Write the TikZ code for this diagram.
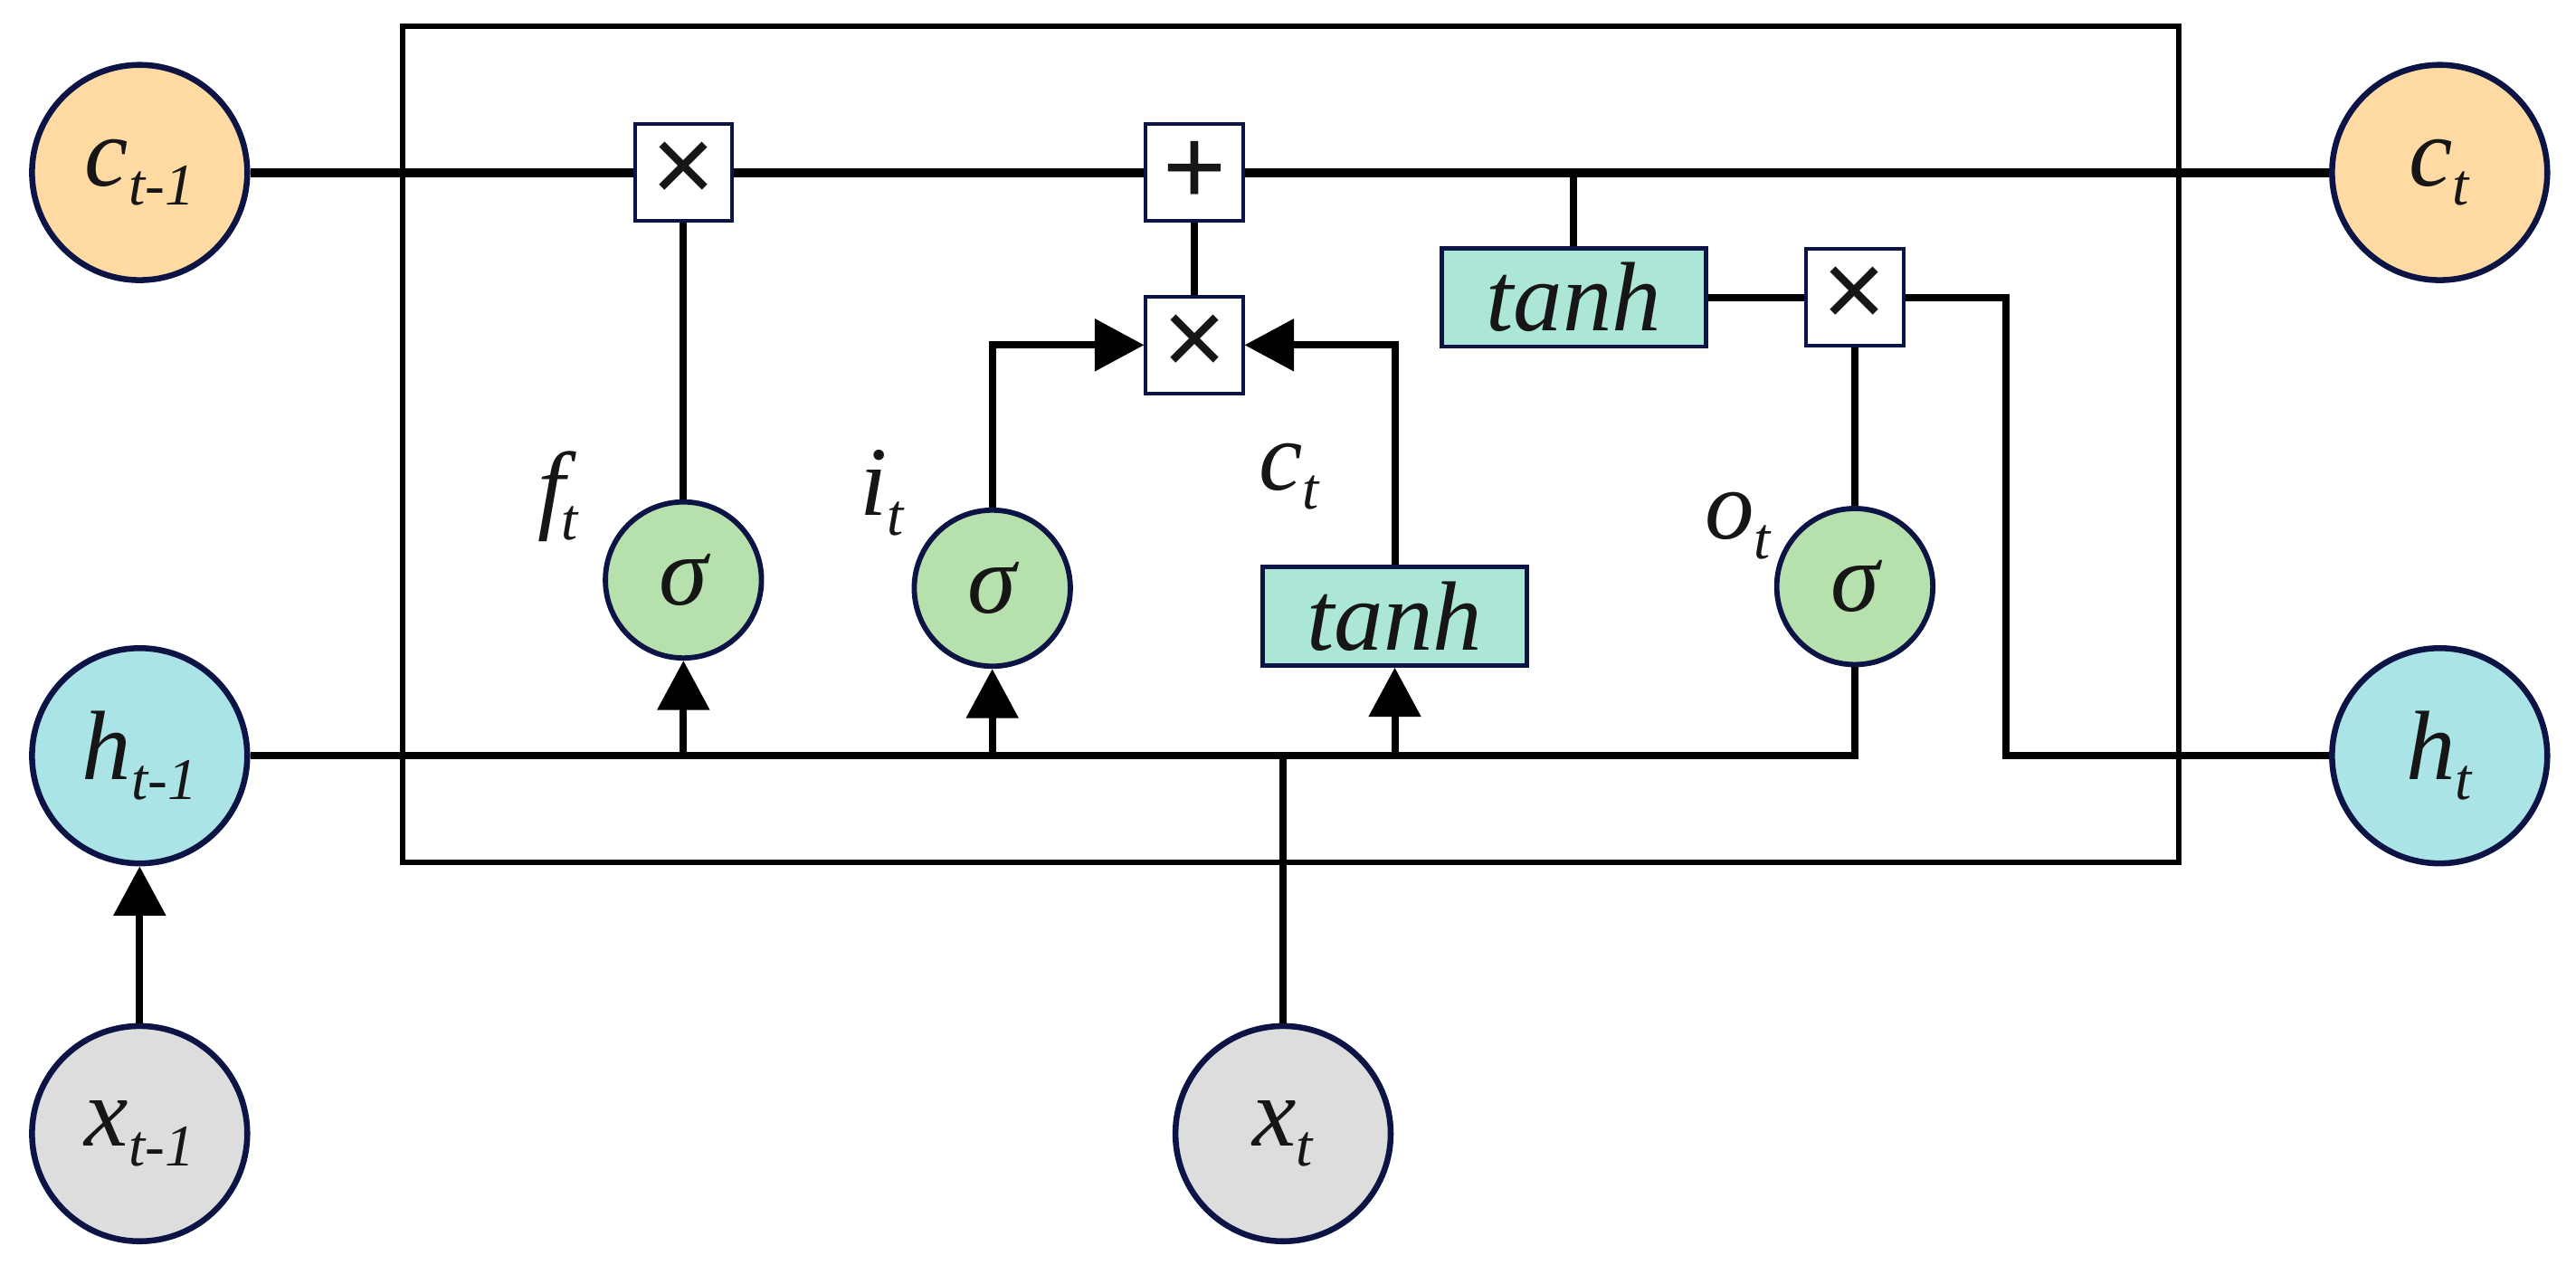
\documentclass[tikz,border=0pt]{standalone}
\usepackage{fontspec}
\setmainfont{Liberation Serif}
\newfontfamily\opfont{Liberation Sans}
\usetikzlibrary{arrows.meta}

\definecolor{navy}{RGB}{12,20,70}
\definecolor{cellfill}{RGB}{255,219,163}
\definecolor{hidfill}{RGB}{171,228,231}
\definecolor{infill}{RGB}{221,221,221}
\definecolor{gatefill}{RGB}{182,224,172}
\definecolor{actfill}{RGB}{172,230,214}
\definecolor{ink}{RGB}{22,22,22}

\newcommand{\vsub}[2]{\textit{#1}\raisebox{-0.2em}{\fontsize{36}{36}\selectfont\textit{#2}}}

\begin{document}
\begin{tikzpicture}[x=1pt,y=-1pt,
  state/.style={circle,draw=navy,line width=3.6pt,minimum size=131pt,inner sep=0pt,text=ink,font=\fontsize{60}{64}\selectfont},
  gate/.style={circle,draw=navy,line width=3.2pt,fill=gatefill,minimum size=95pt,inner sep=0pt,text=ink,font=\fontsize{60}{64}\selectfont\itshape},
  act/.style={rectangle,draw=navy,line width=2.6pt,fill=actfill,minimum width=161pt,minimum height=60pt,inner sep=0pt,text=ink,font=\fontsize{60}{64}\selectfont\itshape},
  op/.style={rectangle,draw=navy,line width=2.2pt,fill=white,minimum width=59pt,minimum height=59pt,inner sep=0pt,text=ink,font=\opfont\fontsize{66}{66}\selectfont},
  lbl/.style={text=ink,inner sep=0pt,font=\fontsize{60}{64}\selectfont},
  wire/.style={line width=4.4pt},
  cell/.style={line width=5.6pt},
  arr/.style={wire,-{Triangle[length=30pt,width=31pt]}}]
\useasboundingbox (0,0) rectangle (1568,781.5);

% frame of the cell
\draw[line width=3.4pt] (245,16) rectangle (1326,525);

% states
\node[state,fill=cellfill] (cprev) at (85,105) {\vsub{c}{t-1}};
\node[state,fill=hidfill] (hprev) at (85,460) {\vsub{h}{t-1}};
\node[state,fill=infill] (xprev) at (85,690) {\vsub{x}{t-1}};
\node[state,fill=cellfill] (cnext) at (1485,105) {\vsub{c}{t}};
\node[state,fill=hidfill] (hnext) at (1485,460) {\vsub{h}{t}};
\node[state,fill=infill] (xnow) at (781,690) {\vsub{x}{t}};

% gates
\node[gate] (sigf) at (416,353) {σ};
\node[gate] (sigi) at (604,358) {σ};
\node[act] (tanhin) at (849,375) {tanh};
\node[gate] (sigo) at (1129,357) {σ};

\node[op] (mulf) at (416,105) {×};
\node[op] (add) at (727,105) {+};
\node[op] (muli) at (727,210) {×};
\node[act] (tanhc) at (958,181) {tanh};
\node[op] (mulo) at (1129,181) {×};

\node[lbl] (flab) at (340,302) {\vsub{f\kern-2pt}{t}};
\node[lbl] (ilab) at (537,300) {\vsub{i}{t}};
\node[lbl] (clab) at (785,290) {\vsub{c}{t}};
\node[lbl] (olab) at (1058,320) {\vsub{o}{t}};

\coordinate (hend) at (1129,460);
\coordinate (hbend) at (1221,460);

% cell state
\draw[cell] (cprev) -- (mulf);
\draw[cell] (mulf) -- (add);
\draw[cell] (add) -- (cnext);
\draw[wire] (tanhc.north) -- (tanhc.north |- add.east);

% hidden input
\draw[wire] (hprev) -- (hend) -- (sigo);
\draw[wire] (xnow) -- (xnow |- hend);
\draw[arr] (sigf |- hend) -- (sigf);
\draw[arr] (sigi |- hend) -- (sigi);
\draw[arr] (tanhin |- hend) -- (tanhin);
\draw[arr] (xprev) -- (hprev);

% gates to products
\draw[wire] (sigf) -- (mulf);
\draw[wire] (muli) -- (add);
\draw[arr] (sigi) |- (muli);
\draw[arr] (tanhin) |- (muli);
\draw[wire] (tanhc) -- (mulo);
\draw[wire] (sigo) -- (mulo);
\draw[wire] (mulo) -| (hbend) -- (hnext);
\end{tikzpicture}
\end{document}
